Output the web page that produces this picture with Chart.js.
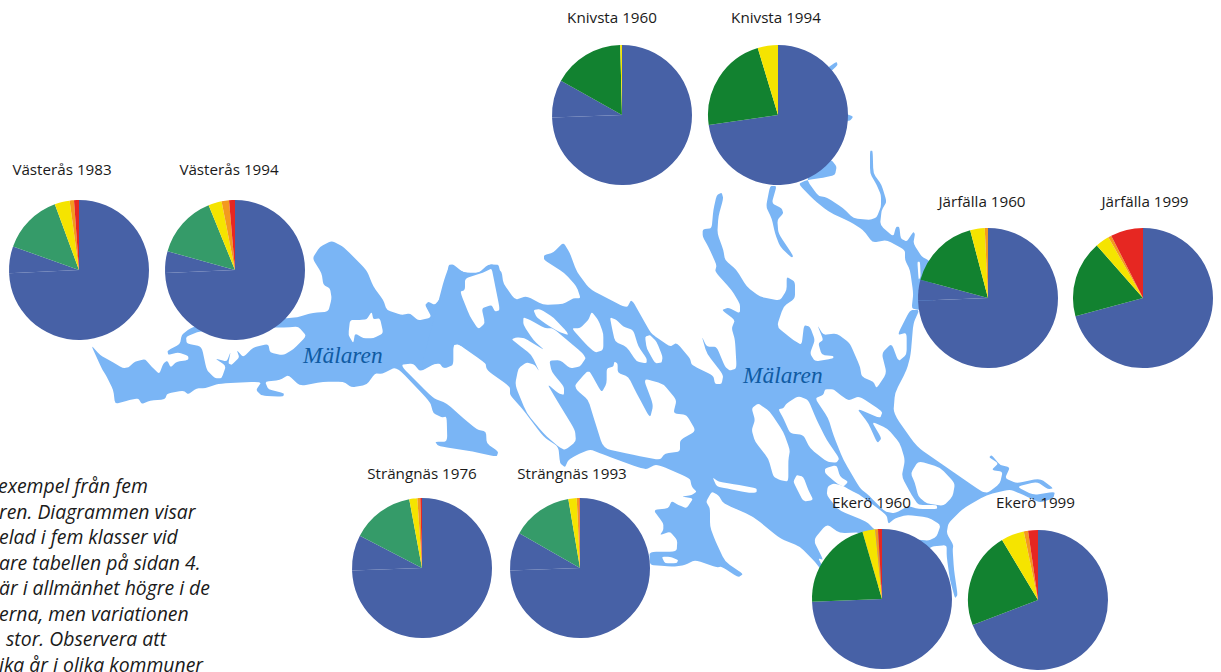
<!DOCTYPE html>
<html lang="sv">
<head>
<meta charset="utf-8">
<title>Mälaren</title>
<script src="https://cdn.jsdelivr.net/npm/chart.js@4"></script>
<style>
html, body { margin: 0; padding: 0; background: #fff; }
#page { position: relative; width: 1221px; height: 672px; overflow: hidden; }
#lake { position: absolute; left: 0; top: 0; }
canvas { position: absolute; }
.label { position: absolute; font: 15.2px "Open Sans", sans-serif; color: #1a1a1a; white-space: nowrap; transform: translateX(-50%); line-height: 18px; }
.name { position: absolute; font: italic 23.4px "Liberation Serif", serif; color: #0f5ba3; white-space: nowrap; line-height: 28px; }
.note { position: absolute; font: italic 19.4px "Open Sans", sans-serif; color: #1a1a1a; white-space: nowrap; line-height: 24px; }
</style>
</head>
<body>
<div id="page">
<svg id="lake" width="1221" height="672"></svg>
</div>
<script>
// share of each class, clockwise from twelve o'clock
var classes = ['Klass 1', 'Klass 1b', 'Klass 2', 'Klass 3', 'Klass 4', 'Klass 5'];
var vasteras1983 = [74.25, 6.17, 13.97, 3.47, 1.0, 1.14];
var vasteras1994 = [74.3, 5.0, 14.56, 3.06, 1.72, 1.36];
var knivsta1960 = [74.44, 8.69, 16.47, 0.4, 0, 0];
var knivsta1994 = [72.72, 0, 22.61, 4.67, 0, 0];
var jarfalla1960 = [74.4, 4.78, 16.72, 3.36, 0.74, 0];
var jarfalla1999 = [70.78, 0, 17.75, 3.22, 0.75, 7.5];
var strangnas1976 = [74.44, 8.17, 14.47, 1.86, 0.67, 0.39];
var strangnas1993 = [74.44, 8.86, 14.03, 1.92, 0.61, 0.14];
var ekero1960 = [74.39, 0, 21.11, 2.92, 0.67, 0.91];
var ekero1999 = [69.17, 0, 22.25, 5.31, 1.0, 2.27];

var titles = ['Västerås 1983', 'Västerås 1994', 'Knivsta 1960', 'Knivsta 1994', 'Järfälla 1960', 'Järfälla 1999', 'Strängnäs 1976', 'Strängnäs 1993', 'Ekerö 1960', 'Ekerö 1999'];
var noteLines = ['exempel från fem', 'ren. Diagrammen visar', 'elad i fem klasser vid', 'are tabellen på sidan 4.', 'är i allmänhet högre i de', 'erna, men variationen', 'stor. Observera att', 'ika år i olika kommuner'];

var series = [vasteras1983, vasteras1994, knivsta1960, knivsta1994, jarfalla1960, jarfalla1999, strangnas1976, strangnas1993, ekero1960, ekero1999];

// where the pies and labels sit on the page
var pieX = [79, 235, 622, 778, 988, 1143, 422, 580, 882, 1038];
var pieY = [270, 270, 115, 115, 297.5, 297.5, 568, 568, 599, 600];
var labelX = [62, 229, 612, 776, 982, 1145, 422, 572, 871.5, 1035.5];
var labelY = [160, 160, 7.5, 7.5, 191.5, 191.5, 463.5, 463.5, 492.5, 492.5];
var noteX = [-2, -1, -1, -1, -1, -1, 6, -1];

var blue = '#4761a6', dark = '#128230', light = '#359b69', yellow = '#f5e400', orange = '#f39a1e', red = '#e62722';
var lightPies = [0, 1, 6, 7];

var page = document.getElementById('page');

function at(ox, oy, list) {
    var pts = [];
    for (var i = 0; i < list.length; i += 2) {
        pts.push([ox + list[i] / 3, oy + list[i + 1] / 3]);
    }
    return pts;
}

var water = [
    at(80, 230, [33,345, 60,375, 90,392, 130,415, 145,412, 165,395, 195,387, 215,410, 238,432, 250,400, 262,392, 272,412, 290,395, 325,390, 325,378, 295,367, 265,375, 262,362, 300,342, 305,315, 330,295, 400,270, 620,265, 650,262, 700,248, 745,245, 755,205, 750,175, 730,165, 725,130, 697,85, 720,50, 755,32, 790,50, 860,120, 880,170, 910,210, 920,240, 965,255, 990,250, 1015,272, 1055,262, 1035,225, 1045,215, 1065,225, 1095,185, 1105,105, 1120,103, 1150,128, 1195,130, 1225,103, 1262,105, 1262,440, 1210,395, 1135,342, 1120,345, 1115,405, 1090,415, 1075,395, 1020,425, 1000,400, 960,405, 1060,505, 1100,520, 1150,565, 1190,598, 1218,605, 1220,640, 1255,665, 1250,680, 1180,665, 1075,648, 1065,635, 1102,635, 1100,560, 1085,562, 1060,550, 1050,515, 950,410, 905,432, 885,430, 860,465, 815,472, 790,455, 730,455, 660,468, 625,435, 600,450, 555,455, 565,478, 612,490, 610,500, 545,497, 528,480, 545,455, 420,460, 375,475, 350,475, 325,493, 310,482, 262,490, 255,508, 210,512, 185,522, 175,505, 150,510, 105,522, 100,480, 80,440, 65,415]),
    at(420, 230, [85,100, 130,128, 180,128, 215,100, 245,125, 250,160, 285,210, 320,198, 370,225, 430,222, 460,205, 482,205, 470,170, 435,130, 372,90, 372,75, 400,68, 430,37, 450,70, 470,125, 510,178, 620,235, 635,207, 690,305, 700,315, 750,350, 770,338, 810,385, 815,405, 880,437, 885,462, 905,462, 910,435, 860,370, 845,318, 860,350, 890,350, 915,410, 930,422, 950,415, 945,330, 935,295, 945,270, 905,240, 925,233, 960,250, 960,222, 935,180, 885,125, 890,105, 865,50, 848,20])
    .concat(at(680, 110, [68,358, 95,355, 100,300, 110,255, 125,248, 130,265, 115,320, 112,370, 130,420, 135,450, 170,480, 200,530, 240,560, 300,572, 320,540, 320,500, 345,515, 345,565, 310,590, 290,650, 340,690, 365,705, 372,645, 390,650, 405,690, 390,730, 405,755, 460,745, 460,738, 425,735, 415,700, 430,690, 412,645, 430,675, 470,670, 510,700, 540,770, 545,800, 580,815, 590,835, 620,790, 605,730, 635,700, 655,755, 680,733, 680,668, 652,675, 690,600, 718,600, 700,640, 692,735, 680,780, 645,848]))
    .concat(at(800, 380, [280,100, 350,200, 430,255, 545,335, 565,338, 600,310, 608,275, 575,270, 595,250, 567,232, 575,225, 600,255, 630,262, 615,295, 650,310, 720,295, 760,325, 745,328, 710,305, 650,320, 700,345, 765,335, 760,355, 720,368, 670,345, 630,328, 560,345, 490,385, 445,430, 440,460]))
    .concat(at(790, 470, [490,225, 488,240, 492,300, 503,375, 495,385, 480,330, 470,260, 470,225, 420,230, 200,400]))
    .concat(at(600, 440, [660,385, 640,360, 600,320, 540,295, 460,230, 370,190, 355,165, 335,155, 318,185, 330,205, 330,260, 345,300, 375,365, 430,402, 415,412, 365,380, 350,382, 285,360, 255,375, 222,380, 195,378, 150,375, 148,335, 230,335, 232,300, 210,275, 180,285, 190,270, 190,250, 160,210, 205,205, 215,183, 235,195, 260,205, 280,175, 245,170, 275,165, 290,155, 275,140, 270,115, 170,72, 135,90, 0,40]))
    .concat(at(420, 230, [510,658, 470,675, 445,690, 435,712, 420,700, 415,650, 370,620, 310,540, 270,495, 270,470, 200,420, 195,390, 115,342, 100,345, 100,405, 75,415, 60,400, 30,405, 0,425])),
    at(680, 110, [355,222, 380,210, 430,203, 465,195, 470,170, 455,150, 400,150, 380,210, 415,258, 440,262, 490,295, 520,325, 570,330, 590,322, 603,290, 603,255, 590,225, 570,190, 570,122, 578,122, 580,190, 605,225, 620,275, 605,300, 600,345, 640,380, 648,350, 658,350, 662,385, 680,395, 700,365, 705,372, 700,400, 725,440, 745,450, 760,470, 760,600, 715,600, 695,595, 700,550, 690,480, 675,450, 675,420, 620,390, 578,398, 550,360, 510,335, 445,305, 400,268]),
    at(680, 110, [270,228, 290,228, 275,280, 305,295, 310,310, 292,330, 295,370, 340,438, 335,443, 300,410, 285,370, 275,325, 258,290]),
    at(540, 0, [860,205, 890,185, 893,195, 872,215]),
    at(540, 0, [915,340, 940,350, 930,362, 915,362])
];

var land = [
    at(80, 230, [318,320, 355,305, 450,295, 620,292, 655,290, 680,318, 640,358, 610,376, 570,368, 565,342, 520,352, 490,382, 470,360, 478,382, 455,405, 445,400, 452,365, 440,395, 405,385, 438,408, 425,445, 405,445, 380,420, 365,350, 320,340]),
    at(80, 230, [810,270, 840,270, 860,268, 875,245, 880,268, 900,265, 910,310, 880,325, 850,325, 825,310, 820,340, 805,315]),
    at(420, 230, [120,185, 135,180, 135,145, 190,128, 215,115, 222,150, 240,240, 225,245, 215,225, 185,235, 195,280, 175,298, 150,260]),
    at(420, 230, [340,240, 360,237, 400,262, 440,305, 445,315, 415,305, 375,280, 350,262]),
    at(420, 230, [310,262, 330,270, 375,295, 400,295, 500,380, 480,410, 450,415, 420,390, 388,392, 395,425, 432,470, 432,495, 415,490, 382,462, 410,510, 465,600, 468,635, 435,660, 415,650, 370,610, 320,550, 285,465, 295,415, 320,397, 345,405, 358,425, 335,375, 290,340, 275,328, 290,322, 315,325, 375,362, 340,330, 310,285]),
    at(420, 230, [455,295, 480,295, 505,270, 515,245, 535,270, 550,310, 550,360, 525,368, 495,340]),
    at(420, 230, [570,262, 590,270, 610,290, 640,300, 655,350, 680,385, 680,400, 650,395, 620,350, 585,335, 575,290]),
    at(420, 230, [675,320, 690,315, 710,335, 728,380, 725,398, 705,400, 680,355]),
    at(420, 230, [465,465, 500,425, 510,425, 545,488, 560,460, 560,415, 580,410, 583,395, 593,400, 593,428, 625,440, 650,490, 690,565, 700,525, 670,445, 730,462, 770,510, 760,550, 800,555, 828,603, 780,630, 780,665, 735,670, 720,690, 640,675, 550,655, 520,560, 505,510, 470,480]),
    at(640, 370, [335,115, 355,100, 390,125, 430,185, 450,240, 445,270, 445,335, 420,330, 400,320, 385,265, 345,215, 335,180, 345,150]),
    at(640, 370, [415,118, 430,115, 440,100, 475,78, 505,90, 530,150, 560,210, 598,265, 590,278, 560,275, 510,235, 490,195, 450,190, 430,145]),
    at(640, 370, [555,295, 590,285, 600,320, 625,335, 610,350, 590,340, 555,310]),
    at(800, 380, [45,55, 70,45, 75,28, 100,28, 115,40, 145,62, 178,48, 248,95, 240,115, 170,85, 205,130, 232,190, 245,175, 215,125, 262,145, 300,190, 315,240, 305,290, 335,345, 355,375, 410,375, 412,387, 355,387, 325,378, 285,400, 255,395, 205,345, 180,325, 130,240, 100,165, 85,115]),
    at(800, 380, [332,280, 355,243, 420,262, 465,310, 458,350, 430,378, 380,370, 355,350, 345,310]),
    at(800, 380, [83,320, 100,310, 130,318, 150,330, 180,345, 260,405, 265,432, 285,415, 320,405, 385,412, 422,435, 410,470, 385,482, 345,478, 300,470, 225,450, 200,425, 115,390, 80,345]),
    at(640, 370, [520,510, 560,462, 600,490, 665,487, 600,600, 545,585, 535,565, 550,570]),
    at(600, 440, [338,112, 355,125, 400,132, 470,145, 470,158, 440,158, 380,145, 350,140]),
    at(600, 440, [590,105, 610,110, 625,150, 640,180, 610,185, 590,145, 580,125]),
    at(600, 440, [185,350, 210,350, 235,360, 230,370, 195,370]),
    at(680, 110, [712,455, 720,455, 722,500, 716,510])
];

// rounds only the corners, so the narrow channels keep their width
function outline(pts) {
    var n = pts.length, d = '', t = 0.25;
    for (var i = 0; i < n; i++) {
        var p = pts[i], a = pts[(i + n - 1) % n], b = pts[(i + 1) % n];
        var x1 = p[0] + (a[0] - p[0]) * t, y1 = p[1] + (a[1] - p[1]) * t;
        var x2 = p[0] + (b[0] - p[0]) * t, y2 = p[1] + (b[1] - p[1]) * t;
        d += (i == 0 ? 'M' : 'L') + x1 + ' ' + y1 + 'Q' + p[0] + ' ' + p[1] + ' ' + x2 + ' ' + y2;
    }
    return d + 'Z';
}

function addPath(pts, color) {
    var el = document.createElementNS('http://www.w3.org/2000/svg', 'path');
    el.setAttribute('d', outline(pts));
    el.setAttribute('fill', color);
    document.getElementById('lake').appendChild(el);
}

for (var w of water) addPath(w, '#7ab5f5');
for (var l of land) addPath(l, '#ffffff');

function addText(cls, text, x, y) {
    var el = document.createElement('div');
    el.className = cls;
    el.textContent = text;
    el.style.left = x + 'px';
    el.style.top = y + 'px';
    page.appendChild(el);
}

addText('name', 'Mälaren', 303, 341);
addText('name', 'Mälaren', 743, 361);

noteLines.forEach(function (line, i) {
    addText('note', line, noteX[i], 474 + i * 25.5);
});

function drawPie(i) {
    var canvas = document.createElement('canvas');
    canvas.style.left = (pieX[i] - 72) + 'px';
    canvas.style.top = (pieY[i] - 72) + 'px';
    canvas.width = 144;
    canvas.height = 144;
    page.appendChild(canvas);
    var green = lightPies.indexOf(i) >= 0 ? light : dark;
    new Chart(canvas, {
        type: 'pie',
        data: {
            labels: classes,
            datasets: [{
                data: series[i],
                backgroundColor: [blue, blue, green, yellow, orange, red],
                borderWidth: 0
            }]
        },
        options: {
            responsive: false,
            animation: false,
            radius: 70,
            layout: { padding: 0 },
            plugins: { legend: { display: false }, tooltip: { enabled: false } }
        }
    });
    addText('label', titles[i], labelX[i], labelY[i]);
}

for (var i = 0; i < series.length; i++) drawPie(i);
</script>
</body>
</html>
